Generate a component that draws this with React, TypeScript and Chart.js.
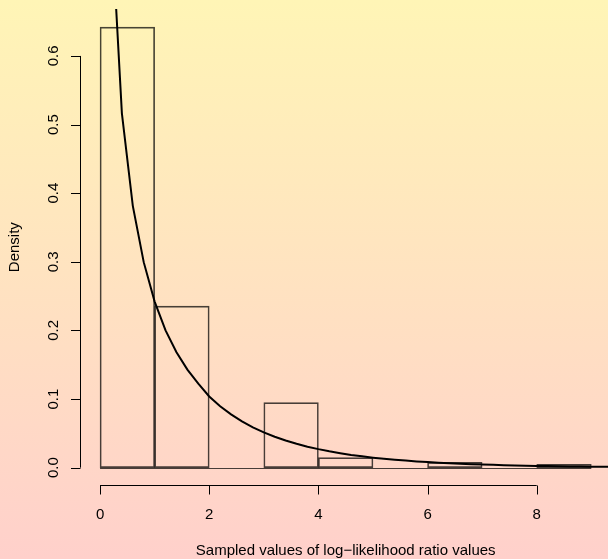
import React, { useEffect, useRef } from "react";
import { Chart, registerables } from "chart.js";

Chart.register(...registerables);

// Histogram bins (left edges, width 1) and densities
const binStarts = [0, 1, 2, 3, 4, 5, 6, 7, 8];
const densities = [0.642, 0.2355, 0, 0.0947, 0.0146, 0, 0.0077, 0, 0.0049];
const binWidth = 1;

// Density curve points
const curveX = [
  0.2, 0.4, 0.6, 0.8, 1.0, 1.2, 1.4, 1.6, 1.8, 2.0,
  2.2, 2.4, 2.6, 2.8, 3.0, 3.2, 3.4, 3.6, 3.8, 4.0,
  4.2, 4.4, 4.6, 4.8, 5.0, 5.2, 5.4, 5.6, 5.8, 6.0,
  6.2, 6.4, 6.6, 6.8, 7.0, 7.2, 7.4, 7.6, 7.8, 8.0,
  8.2, 8.4, 8.6, 8.8, 9.0, 9.2, 9.4,
];
const curveY = [
  0.807, 0.5164, 0.3815, 0.2995, 0.242, 0.2001, 0.1682, 0.1429, 0.1224, 0.1038,
  0.0895, 0.0776, 0.0674, 0.0588, 0.0514, 0.045, 0.0395, 0.0348, 0.0306, 0.027,
  0.0238, 0.0211, 0.0186, 0.0165, 0.0146, 0.013, 0.0115, 0.0103, 0.0091, 0.0081,
  0.0072, 0.0064, 0.0057, 0.0051, 0.0046, 0.0041, 0.0036, 0.0032, 0.0029, 0.0026,
  0.0023, 0.0021, 0.0018, 0.0017, 0.0015, 0.0013, 0.0012,
];

const xTicks = [0, 2, 4, 6, 8];
const xTickLabels = ["0", "2", "4", "6", "8"];
const yTicks = [0, 0.1, 0.2, 0.3, 0.4, 0.5, 0.6];
const yTickLabels = ["0.0", "0.1", "0.2", "0.3", "0.4", "0.5", "0.6"];
const xTitle = "Sampled values of log\u2212likelihood ratio values";
const yTitle = "Density";

const FONT = "15px 'Liberation Sans', Arial, Helvetica, sans-serif";

const rAxesPlugin = {
  id: "rAxes",
  afterDatasetsDraw(chart: any) {
    const { ctx, chartArea, scales } = chart;
    const xs = scales.x;
    const ys = scales.y;
    ctx.save();
    // histogram baseline (covers zero-height bins)
    const y0 = Math.round(ys.getPixelForValue(0)) + 0.5;
    ctx.strokeStyle = "rgba(0,0,0,0.72)";
    ctx.lineWidth = 1;
    ctx.beginPath();
    ctx.moveTo(xs.getPixelForValue(binStarts[0]), y0);
    ctx.lineTo(xs.getPixelForValue(binStarts[binStarts.length - 1] + binWidth), y0);
    ctx.stroke();
    ctx.restore();
  },
  afterDraw(chart: any) {
    const { ctx, chartArea, scales } = chart;
    const xs = scales.x;
    const ys = scales.y;
    ctx.save();
    ctx.strokeStyle = "#000";
    ctx.fillStyle = "#000";
    ctx.lineWidth = 1;
    ctx.font = FONT;

    // X axis
    const axY = Math.round(chartArea.bottom) + 0.5;
    const tickLen = 9;
    ctx.beginPath();
    ctx.moveTo(xs.getPixelForValue(xTicks[0]), axY);
    ctx.lineTo(xs.getPixelForValue(xTicks[xTicks.length - 1]), axY);
    xTicks.forEach((v) => {
      const px = Math.round(xs.getPixelForValue(v)) + 0.5;
      ctx.moveTo(px, axY);
      ctx.lineTo(px, axY + tickLen);
    });
    ctx.stroke();
    ctx.textAlign = "center";
    ctx.textBaseline = "middle";
    xTicks.forEach((v, i) => {
      ctx.fillText(xTickLabels[i], xs.getPixelForValue(v), axY + 29);
    });
    const midX = xs.getPixelForValue(
      (binStarts[0] + binStarts[binStarts.length - 1] + binWidth) / 2
    );
    ctx.fillText(xTitle, midX, axY + 65);

    // Y axis
    const axX = Math.round(chartArea.left) + 0.5;
    ctx.beginPath();
    ctx.moveTo(axX, ys.getPixelForValue(yTicks[0]));
    ctx.lineTo(axX, ys.getPixelForValue(yTicks[yTicks.length - 1]));
    yTicks.forEach((v) => {
      const py = Math.round(ys.getPixelForValue(v)) + 0.5;
      ctx.moveTo(axX, py);
      ctx.lineTo(axX - tickLen - 0.5, py);
    });
    ctx.stroke();
    yTicks.forEach((v, i) => {
      ctx.save();
      ctx.translate(axX - 26.5, ys.getPixelForValue(v));
      ctx.rotate(-Math.PI / 2);
      ctx.fillText(yTickLabels[i], 0, 0);
      ctx.restore();
    });
    ctx.save();
    ctx.translate(15, (chartArea.top + chartArea.bottom) / 2);
    ctx.rotate(-Math.PI / 2);
    ctx.fillText(yTitle, 0, 0);
    ctx.restore();

    ctx.restore();
  },
};

export default function App() {
  const canvasRef = useRef<HTMLCanvasElement | null>(null);

  useEffect(() => {
    if (!canvasRef.current) return;
    const chart = new Chart(canvasRef.current, {
      type: "bar",
      data: {
        datasets: [
          {
            type: "bar",
            label: "Histogram",
            data: binStarts.map((b, i) => ({ x: b + binWidth / 2, y: densities[i] })),
            backgroundColor: "rgba(0,0,0,0)",
            borderColor: "rgba(0,0,0,0.72)",
            borderWidth: 1,
            borderSkipped: false,
            barPercentage: 1,
            categoryPercentage: 1,
            order: 2,
          } as any,
          {
            type: "line",
            label: "Density curve",
            data: curveX.map((x, i) => ({ x, y: curveY[i] })),
            borderColor: "#000",
            borderWidth: 2,
            pointRadius: 0,
            tension: 0,
            fill: false,
            order: 1,
          } as any,
        ],
      },
      options: {
        responsive: false,
        animation: false,
        devicePixelRatio: 1,
        layout: { padding: { left: 79.7, top: 9, right: 0, bottom: 73.7 } },
        plugins: {
          legend: { display: false },
          tooltip: { enabled: false },
          title: { display: false },
        },
        scales: {
          x: {
            type: "linear",
            display: false,
            min: -0.373,
            max: 9.306,
            offset: false,
            ticks: { stepSize: 1, includeBounds: false },
            grid: { display: false },
          },
          y: {
            type: "linear",
            display: false,
            min: -0.0257,
            max: 0.6684,
            ticks: { includeBounds: false },
            grid: { display: false },
          },
        },
      },
      plugins: [rAxesPlugin],
    });
    return () => chart.destroy();
  }, []);

  return (
    <div
      style={{
        position: "fixed",
        left: 0,
        top: 0,
        width: 608,
        height: 559,
        overflow: "hidden",
        background: "linear-gradient(to bottom, #FFF5B6 0%, #FFD0CB 100%)",
      }}
    >
      <canvas ref={canvasRef} width={608} height={559} style={{ display: "block" }} />
    </div>
  );
}
